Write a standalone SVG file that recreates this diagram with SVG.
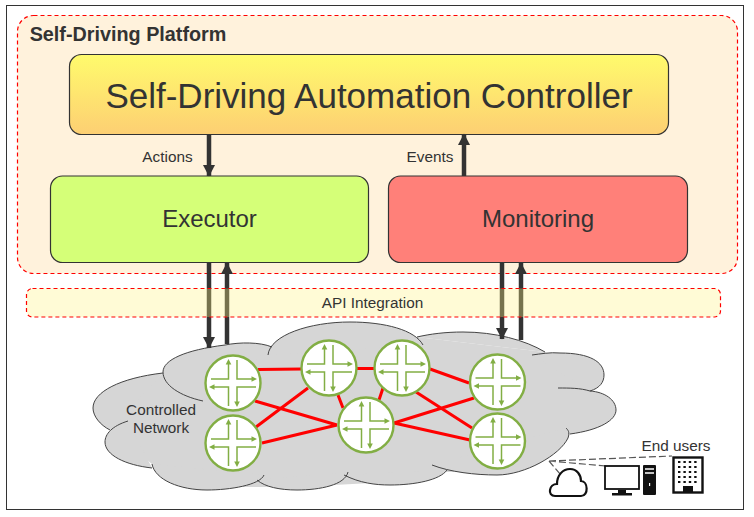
<svg xmlns="http://www.w3.org/2000/svg" xmlns:xlink="http://www.w3.org/1999/xlink" width="754" height="517" viewBox="0 0 754 517">
<style>
text{font-family:"Liberation Sans",Arial,sans-serif;fill:#333;text-anchor:middle}
.box{stroke:#333;stroke-width:1.2}
.zone{stroke:#f00;stroke-width:1.2;stroke-dasharray:4 3}
.flow{stroke:#333;stroke-width:4.500;fill:none;marker-end:url(#ah)}
.link{stroke:#f00;stroke-width:3;fill:none}
.dash{stroke:#555;stroke-width:1.200;stroke-dasharray:7 3;fill:none}
.rb{fill:#fff;stroke:#82ae44;stroke-width:2.400}
.ra{stroke:#82ae44;stroke-width:1.500;fill:none}
.rh{fill:#82ae44;stroke:none}
.sm{font-size:15.330px}
</style>
<defs>
<linearGradient id="gc" x1="0" y1="0" x2="0" y2="1"><stop offset="0" stop-color="#fffb6c"/><stop offset="1" stop-color="#fdcf73"/></linearGradient>
<marker id="ah" markerUnits="userSpaceOnUse" markerWidth="14" markerHeight="12" refX="11" refY="6" orient="auto"><path d="M0,0L11.500,6L0,12z" fill="#333"/></marker>
<path id="lobes" d="M272,347C260,342 240,342 225,345C185,350 163,360 163,372C163,385 180,396 203,401M163,373C120,378 93,392 93,408C93,416 100,425 110,430M128,421C112,426 105,434 105,442C105,455 125,465 152,468M152,464C155,480 180,490 207,490C230,490 260,485 264,475M257,480C265,487 280,490 297,490C320,490 345,485 348,472M344,475C360,483 375,485 390,485C415,485 440,480 447,470M432,465C450,472 475,475 497,475C525,475 560,455 568,438C570,432 568,430 566,428M570,434C600,430 616,420 616,410C616,400 605,392 590,391C580,388 570,388 558,388M590,391C600,388 604,382 604,375C604,362 590,353 560,353C550,352 540,354 532,355M545,352C525,340 495,332 463,332C445,332 430,334 417,337M423,345C415,330 385,322 350,322C310,322 270,335 268,355"/>
<g id="router">
<circle class="rb" r="27.500"/>
<path class="ra" d="M-4.500,-20V-4H-22M4,-23V-4H20M-20,4H-4.500V23M4,20V4H23"/>
<path class="rh" d="M-4.500,-24l-2.800,5.500h5.600zM24,-4l-5.500,-2.800v5.600zM-24,4l5.500,-2.800v5.600zM4,24l-2.800,-5.500h5.600z"/>
</g>
</defs>
<rect id="frame" x="6.500" y="5.500" width="737" height="504" fill="#fff" stroke="#333" stroke-width="1"/>
<g id="platform"><rect class="zone" x="17.500" y="15.500" width="720" height="258" rx="16" fill="#fff2dc"/><text x="128" y="41" font-size="19.800" font-weight="bold">Self-Driving Platform</text></g>
<g id="controller"><rect class="box" x="69.500" y="54.500" width="599" height="80" rx="12" fill="url(#gc)"/><text x="369" y="108" font-size="35">Self-Driving Automation Controller</text></g>
<g id="executor"><rect class="box" x="50.500" y="176" width="318" height="86.500" rx="12" fill="#d5ff78"/><text x="209.500" y="227" font-size="24">Executor</text></g>
<g id="monitoring"><rect class="box" x="388.500" y="176" width="299" height="86.500" rx="12" fill="#ff8079"/><text x="538" y="227" font-size="24">Monitoring</text></g>
<g id="cloud">
<polygon points="272,347 417,337 545,352 590,391 568,438 497,472 447,472 390,482 297,487 207,487 152,464 110,430 130,400 165,372" fill="#d6d6d6"/>
<use xlink:href="#lobes" href="#lobes" fill="#d6d6d6"/>
<use xlink:href="#lobes" href="#lobes" fill="none" stroke="#444" stroke-width="1"/>
<text class="sm"><tspan x="161" y="415">Controlled</tspan><tspan x="161" y="433">Network</tspan></text>
</g>
<g id="connectors">
<path class="flow" d="M209,135V176"/>
<path class="flow" d="M464,176V134"/>
<path class="flow" d="M209,263V348"/>
<path class="flow" d="M227,344V263"/>
<path class="flow" d="M502,263V339"/>
<path class="flow" d="M521,340V263"/>
<path class="link" d="M258,369.500L302,369" stroke-width="2"/>
<path class="link" d="M356,368.500H375M255,401L337,425M256,427L308,388M262,443L337,425M338,395L343,408M383,388L379,400M394,423L474,398M394,423L470,440M430,369L469,383M416,392L472,428"/>
<path class="dash" d="M549,461L560,474M549,461L606,466M549,461L672,456"/>
</g>
<g id="api"><rect class="zone" x="26.500" y="288.500" width="694" height="28.500" rx="6" fill="#fff384" fill-opacity=".33"/><text class="sm" x="372.500" y="308">API Integration</text></g>
<text class="sm" id="actions" x="167.500" y="162">Actions</text>
<text class="sm" id="events" x="430" y="162">Events</text>
<g id="r1"><use xlink:href="#router" href="#router" x="233" y="383"/></g>
<g id="r2"><use xlink:href="#router" href="#router" x="233" y="443"/></g>
<g id="r3"><use xlink:href="#router" href="#router" x="329" y="368"/></g>
<g id="r4"><use xlink:href="#router" href="#router" x="402" y="368"/></g>
<g id="r5"><use xlink:href="#router" href="#router" x="366" y="425"/></g>
<g id="r6"><use xlink:href="#router" href="#router" x="497.500" y="382"/></g>
<g id="r7"><use xlink:href="#router" href="#router" x="497.500" y="441"/></g>
<g id="endusers">
<text class="sm" x="676" y="451">End users</text>
<path d="M555,496C547,496 549,484 557,484C557,475 563,469 570,469C577,469 581,475 581,481C588,481 589,496 581,496Z" fill="#fff" stroke="#111" stroke-width="2.200"/>
<rect x="605" y="466" width="34" height="23" fill="#fff" stroke="#111" stroke-width="1.800"/>
<path d="M618,490h8v3h6v2.500h-20v-2.500h6z" fill="#111"/>
<rect x="643" y="465" width="13" height="30" rx="1" fill="#111"/>
<path d="M645,469h9M645,473h9" stroke="#fff" stroke-width="1.400"/>
<rect x="649" y="483" width="1.200" height="3" fill="#fff"/>
<rect x="673.500" y="457.500" width="29" height="35" fill="#fff" stroke="#111" stroke-width="2.400"/>
<path d="M678,462h20M678,467h20M678,472h20M678,477h20M678,482h20" stroke="#111" stroke-width="2.200" stroke-dasharray="2.400 3"/>
<rect x="683" y="486" width="10" height="6" fill="#111"/>
</g>
</svg>
